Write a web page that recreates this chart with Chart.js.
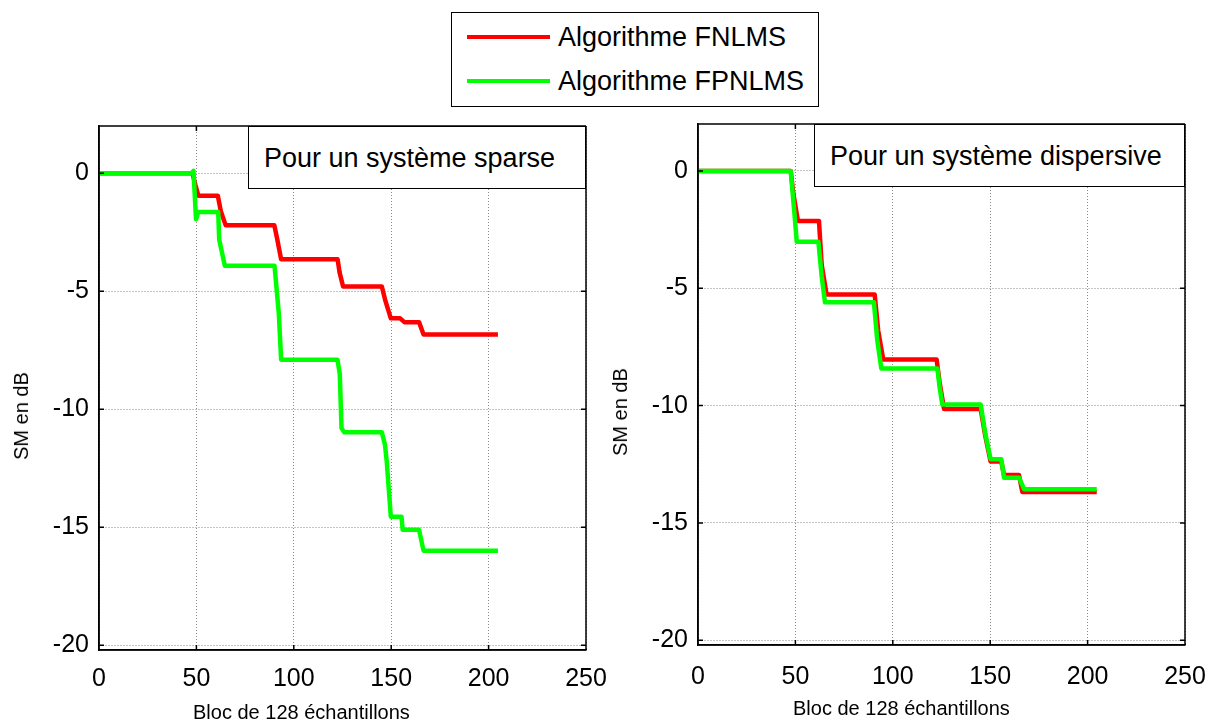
<!DOCTYPE html>
<html><head><meta charset="utf-8">
<script src="https://cdn.jsdelivr.net/npm/chart.js@4/dist/chart.umd.min.js"></script>
<style>
html,body{margin:0;padding:0;background:#fff;width:1214px;height:727px;overflow:hidden;font-family:"Liberation Sans",Arial,sans-serif;}
canvas{position:absolute;top:0;}
#legend{position:absolute;left:451px;top:12px;width:366px;height:93px;border:1.5px solid #000;background:#fff;}
.lrow{position:absolute;left:0;height:30px;width:366px;}
.lline{position:absolute;left:15px;width:83px;height:4px;top:13px;}
.ltxt{position:absolute;left:106px;top:0;font-size:27px;line-height:30px;color:#000;white-space:nowrap;}
.note{position:absolute;border:1px solid #000;background:#fff;font-size:27px;color:#000;white-space:nowrap;box-sizing:border-box;}
.note span{position:absolute;top:50%;transform:translateY(-50%);}
.axt{position:absolute;font-size:20px;color:#000;white-space:nowrap;line-height:24px;}
</style>
</head><body>
<div id="legend"></div>
<canvas id="c1" width="607" height="727" style="left:0px"></canvas>
<canvas id="c2" width="607" height="727" style="left:607px"></canvas>
<div class="note" id="n1" style="left:248px;top:126px;width:338px;height:63px;"><span id="t1" style="left:15px"></span></div>
<div class="note" id="n2" style="left:814px;top:124px;width:371px;height:63px;"><span id="t2" style="left:15px"></span></div>
<div class="axt" id="xt1" style="left:193px;top:700px;"></div>
<div class="axt" id="xt2" style="left:793px;top:696px;"></div>
<div class="axt" id="yt1" style="left:21px;top:416px;transform:translate(-50%,-50%) rotate(-90deg);"></div>
<div class="axt" id="yt2" style="left:620px;top:412px;transform:translate(-50%,-50%) rotate(-90deg);"></div>
<script>
// ---- data ----
const seriesNames = ["Algorithme FNLMS", "Algorithme FPNLMS"];
const seriesColors = ["#ff0000", "#00ff00"];
const xTitle = "Bloc de 128 échantillons";
const yTitle = "SM en dB";
const notes = ["Pour un système sparse", "Pour un système dispersive"];

// Sparse system
const sparseFnlmsX = [0, 48, 49.5, 51, 61, 62.5, 65, 90, 91.5, 93.5, 122.5, 123.5, 125.3, 145.2, 147, 149.8, 154.6, 156.8, 164.3, 166.6, 204.8];
const sparseFnlmsY = [0, 0, -0.5, -0.95, -0.95, -1.6, -2.2, -2.2, -2.8, -3.65, -3.65, -4.2, -4.8, -4.8, -5.4, -6.15, -6.15, -6.31, -6.31, -6.83, -6.83];
const sparseFpnlmsX = [0, 47.5, 48.5, 49.8, 51, 61.2, 61.7, 64.6, 90.1, 92.3, 93.5, 122.4, 123.6, 124.5, 125.9, 145.2, 146.8, 147.7, 149.8, 155.3, 155.9, 164.3, 166.6, 204.8];
const sparseFpnlmsY = [0, 0, 0.1, -1.95, -1.64, -1.64, -2.81, -3.92, -3.92, -5.93, -7.9, -7.9, -8.5, -10.8, -10.98, -10.98, -11.5, -12.2, -14.55, -14.55, -15.11, -15.11, -15.99, -15.99];

// Dispersive system
const dispFnlmsX = [0, 47.6, 49, 51.3, 62.1, 63.5, 66, 90.7, 92.5, 95.1, 122.5, 124, 126.3, 145.1, 147.5, 150.2, 155.7, 157.1, 164.8, 166.5, 204.7];
const dispFnlmsY = [0, 0, -1, -2.13, -2.13, -4, -5.26, -5.26, -6.8, -8.04, -8.04, -9, -10.14, -10.14, -11.3, -12.38, -12.38, -12.96, -12.96, -13.68, -13.68];
const dispFpnlmsX = [0, 47.6, 49.5, 50.7, 61.8, 63.5, 65.2, 90.3, 92, 94.1, 122.9, 124, 125.4, 145.1, 147.5, 150.2, 155.7, 157.1, 164.8, 167.4, 204.7];
const dispFpnlmsY = [0, 0, -1.8, -3.02, -3.02, -4.5, -5.6, -5.6, -7.2, -8.42, -8.42, -9.2, -9.95, -9.95, -11.2, -12.28, -12.28, -13.07, -13.07, -13.56, -13.56];

const xMin = 0, xMax = 250, xStep = 50;
const yMin = -20.2, yMax = 2, yStep = 5;

// ---- texts ----
document.getElementById('t1').textContent = notes[0];
document.getElementById('t2').textContent = notes[1];
['xt1', 'xt2'].forEach(id => document.getElementById(id).textContent = xTitle);
['yt1', 'yt2'].forEach(id => document.getElementById(id).textContent = yTitle);

// ---- legend ----
const lg = document.getElementById('legend');
seriesNames.forEach((n, i) => {
  const r = document.createElement('div');
  r.className = 'lrow';
  r.style.top = (9 + i * 44) + 'px';
  r.innerHTML = '<div class="lline" style="background:' + seriesColors[i] + '"></div><div class="ltxt">' + n + '</div>';
  lg.appendChild(r);
});

const FONT = '"Liberation Sans", Arial, sans-serif';

const frame = {
  id: 'frame',
  afterDraw(chart) {
    const {ctx, chartArea: a, scales: {x, y}} = chart;
    ctx.save();
    ctx.strokeStyle = '#000';
    ctx.lineWidth = 1.5;
    ctx.beginPath();
    ctx.moveTo(a.left, a.top); ctx.lineTo(a.right, a.top);
    ctx.moveTo(a.right, a.top); ctx.lineTo(a.right, a.bottom);
    ctx.moveTo(a.left, a.top); ctx.lineTo(a.left, a.bottom);
    ctx.moveTo(a.left, a.bottom); ctx.lineTo(a.right, a.bottom);
    const tl = 5;
    x.ticks.forEach(t => {
      const px = x.getPixelForValue(t.value);
      ctx.moveTo(px, a.bottom); ctx.lineTo(px, a.bottom - tl);
      ctx.moveTo(px, a.top); ctx.lineTo(px, a.top + tl);
    });
    y.ticks.forEach(t => {
      const py = y.getPixelForValue(t.value);
      ctx.moveTo(a.left, py); ctx.lineTo(a.left + tl, py);
      ctx.moveTo(a.right, py); ctx.lineTo(a.right - tl, py);
    });
    ctx.stroke();
    ctx.restore();
  }
};

function zip(xs, ys) { return xs.map((v, i) => ({x: v, y: ys[i]})); }

function makeChart(id, xa, ya, xb, yb, g) {
  new Chart(document.getElementById(id), {
    type: 'line',
    data: {datasets: [
      {label: seriesNames[1], data: zip(xb, yb), borderColor: seriesColors[1], order: 0},
      {label: seriesNames[0], data: zip(xa, ya), borderColor: seriesColors[0], order: 1}
    ]},
    options: {
      responsive: false, animation: false, events: [],
      layout: {padding: {top: g.top, right: g.right, left: 0, bottom: 0}},
      plugins: {legend: {display: false}, tooltip: {enabled: false}},
      elements: {point: {radius: 0}, line: {borderWidth: 4.5, tension: 0, borderJoinStyle: 'round', fill: false}},
      scales: {
        x: {
          type: 'linear', min: xMin, max: xMax,
          ticks: {stepSize: xStep, includeBounds: false, padding: g.xpad, color: '#000', maxRotation: 0, autoSkip: false, font: {size: 25, family: FONT}},
          grid: {color: '#8a8a8a', lineWidth: 1, drawTicks: false},
          border: {display: true, color: '#000', width: 1.5, dash: [1, 2]},
          afterFit(s) { s.height = g.xh; s.paddingLeft = 0; s.paddingRight = 0; }
        },
        y: {
          type: 'linear', min: yMin, max: yMax,
          ticks: {stepSize: yStep, includeBounds: false, padding: 10, color: '#000', autoSkip: false, font: {size: 25, family: FONT}},
          grid: {color: '#8a8a8a', lineWidth: 1, drawTicks: false},
          border: {display: true, color: '#000', width: 1.5, dash: [1, 2]},
          afterFit(s) { s.width = g.yw; s.paddingTop = 0; s.paddingBottom = 0; }
        }
      }
    },
    plugins: [frame]
  });
}

makeChart('c1', sparseFnlmsX, sparseFnlmsY, sparseFpnlmsX, sparseFpnlmsY,
  {top: 126, right: 21, xh: 77, yw: 99, xpad: 14});
makeChart('c2', dispFnlmsX, dispFnlmsY, dispFpnlmsX, dispFpnlmsY,
  {top: 124, right: 29, xh: 82, yw: 91, xpad: 17});
</script>
</body></html>
